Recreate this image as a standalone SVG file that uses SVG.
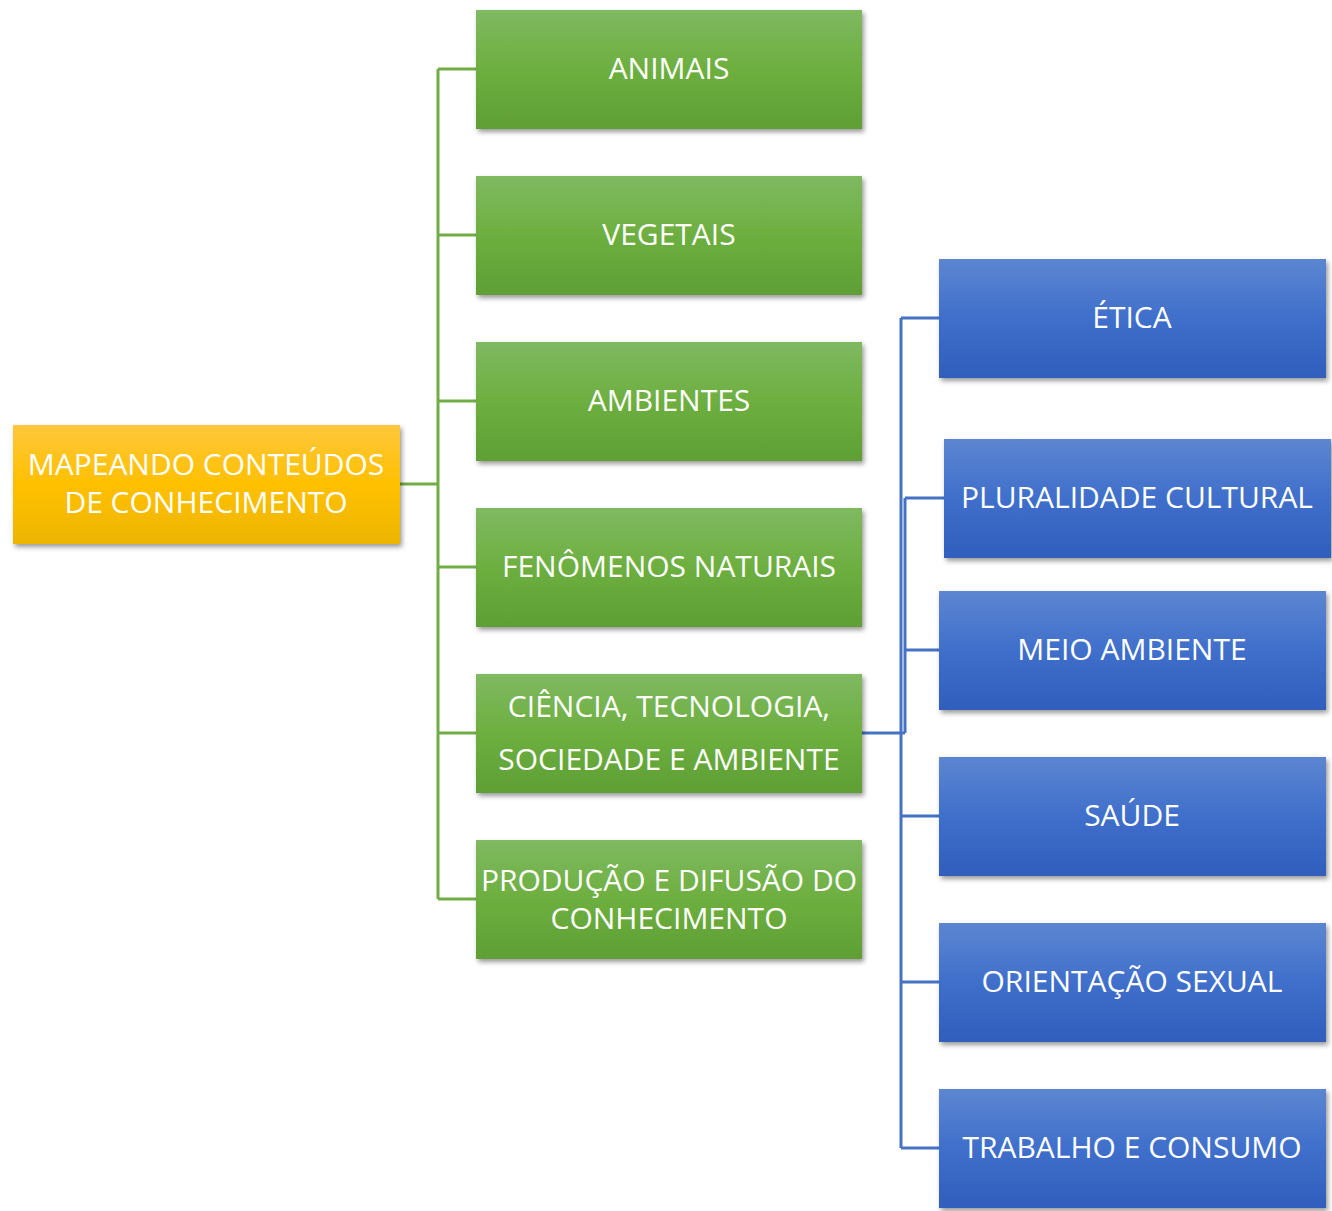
<svg xmlns="http://www.w3.org/2000/svg" width="1332" height="1211" viewBox="0 0 1332 1211">
<defs>
<linearGradient id="gy" x1="0" y1="0" x2="0" y2="1"><stop offset="0" stop-color="#FFC73D"/><stop offset="0.5" stop-color="#FFC000"/><stop offset="1" stop-color="#EDB500"/></linearGradient>
<linearGradient id="gg" x1="0" y1="0" x2="0" y2="1"><stop offset="0" stop-color="#7FB962"/><stop offset="0.5" stop-color="#6DAF3F"/><stop offset="1" stop-color="#5F9F35"/></linearGradient>
<linearGradient id="gb" x1="0" y1="0" x2="0" y2="1"><stop offset="0" stop-color="#5D86D1"/><stop offset="0.5" stop-color="#3F6FCB"/><stop offset="1" stop-color="#305EBC"/></linearGradient>
<filter id="sh" x="-5%" y="-10%" width="115%" height="130%"><feDropShadow dx="2" dy="3" stdDeviation="2.5" flood-color="#000" flood-opacity="0.4"/></filter>
</defs>
<style>
.t{font-family:"Open Sans","Liberation Sans",sans-serif;font-size:30px;fill:#fff;text-anchor:middle}
.y{fill:url(#gy);filter:url(#sh)}
.g{fill:url(#gg);filter:url(#sh)}
.b{fill:url(#gb);filter:url(#sh)}
.cg{stroke:#70AD47;stroke-width:3;fill:none}
.cb{stroke:#4472C4;stroke-width:3;fill:none}
</style>
<g id="connectors">
<path class="cg" d="M400 484H438M438 69V899M438 69H476M438 235H476M438 401H476M438 567H476M438 733H476M438 899H476"/>
<path class="cb" d="M862 733H905M901 318V1148M901 318H939M905 498V733M905 498H944M905 650H939M901 816H939M901 982H939M901 1148H939"/>
</g>
<g id="root"><rect class="y" x="13" y="425" width="387" height="119"/><text class="t" x="206" y="475">MAPEANDO CONTEÚDOS</text><text class="t" x="206" y="513">DE CONHECIMENTO</text></g>
<g id="animais"><rect class="g" x="476" y="10" width="386" height="119"/><text class="t" x="669" y="79">ANIMAIS</text></g>
<g id="vegetais"><rect class="g" x="476" y="176" width="386" height="119"/><text class="t" x="669" y="245">VEGETAIS</text></g>
<g id="ambientes"><rect class="g" x="476" y="342" width="386" height="119"/><text class="t" x="669" y="411">AMBIENTES</text></g>
<g id="fenomenos"><rect class="g" x="476" y="508" width="386" height="119"/><text class="t" x="669" y="577">FENÔMENOS NATURAIS</text></g>
<g id="ciencia"><rect class="g" x="476" y="674" width="386" height="119"/><text class="t" x="669" y="717">CIÊNCIA, TECNOLOGIA,</text><text class="t" x="669" y="770">SOCIEDADE E AMBIENTE</text></g>
<g id="producao"><rect class="g" x="476" y="840" width="386" height="119"/><text class="t" x="669" y="891">PRODUÇÃO E DIFUSÃO DO</text><text class="t" x="669" y="929">CONHECIMENTO</text></g>
<g id="etica"><rect class="b" x="939" y="259" width="387" height="119"/><text class="t" x="1132" y="328">ÉTICA</text></g>
<g id="pluralidade"><rect class="b" x="944" y="439" width="387" height="119"/><text class="t" x="1137" y="508">PLURALIDADE CULTURAL</text></g>
<g id="meio"><rect class="b" x="939" y="591" width="387" height="119"/><text class="t" x="1132" y="660">MEIO AMBIENTE</text></g>
<g id="saude"><rect class="b" x="939" y="757" width="387" height="119"/><text class="t" x="1132" y="826">SAÚDE</text></g>
<g id="orientacao"><rect class="b" x="939" y="923" width="387" height="119"/><text class="t" x="1132" y="992">ORIENTAÇÃO SEXUAL</text></g>
<g id="trabalho"><rect class="b" x="939" y="1089" width="387" height="119"/><text class="t" x="1132" y="1158">TRABALHO E CONSUMO</text></g>
</svg>
